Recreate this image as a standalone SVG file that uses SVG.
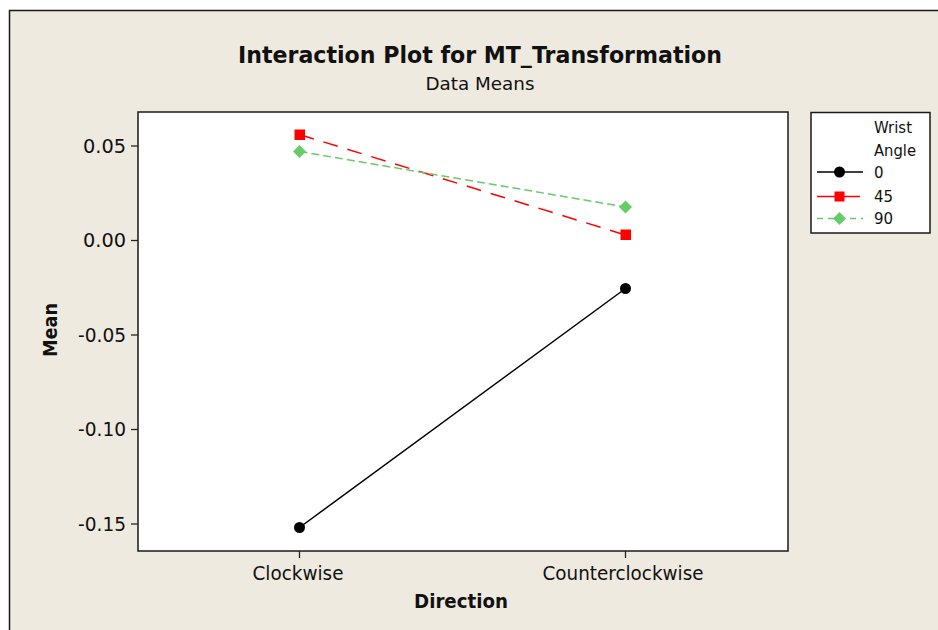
<svg xmlns="http://www.w3.org/2000/svg" width="938" height="630" viewBox="0 0 938 630">
<style>
text{font-family:"DejaVu Sans","Liberation Sans",sans-serif;fill:#111}
.tick{stroke:#222;stroke-width:1.3}
.ylab{font-size:19px;text-anchor:end}
.xlab{font-size:19px;text-anchor:middle}
.leg{font-size:15px}
</style>
<rect width="938" height="630" fill="#ffffff"/>
<rect x="9.5" y="10.5" width="940" height="630" fill="#EEEAE0" stroke="#1a1a1a" stroke-width="1.5"/>
<g id="title">
<text x="480" y="63" font-size="23" font-weight="bold" text-anchor="middle" textLength="484" lengthAdjust="spacingAndGlyphs">Interaction Plot for MT_Transformation</text>
<text x="480" y="90" font-size="18" text-anchor="middle" textLength="109" lengthAdjust="spacingAndGlyphs">Data Means</text>
</g>
<g id="plot-area">
<rect x="138" y="112" width="650" height="439" fill="#ffffff" stroke="#1a1a1a" stroke-width="1.5"/>
</g>
<g id="y-axis">
<line class="tick" x1="131" y1="146" x2="138" y2="146"/>
<line class="tick" x1="131" y1="240.5" x2="138" y2="240.5"/>
<line class="tick" x1="131" y1="335" x2="138" y2="335"/>
<line class="tick" x1="131" y1="429.5" x2="138" y2="429.5"/>
<line class="tick" x1="131" y1="524" x2="138" y2="524"/>
<text class="ylab" x="126" y="152.5" textLength="43" lengthAdjust="spacingAndGlyphs">0.05</text>
<text class="ylab" x="126" y="247" textLength="43" lengthAdjust="spacingAndGlyphs">0.00</text>
<text class="ylab" x="126" y="341.5" textLength="48" lengthAdjust="spacingAndGlyphs">-0.05</text>
<text class="ylab" x="126" y="436" textLength="48" lengthAdjust="spacingAndGlyphs">-0.10</text>
<text class="ylab" x="126" y="530.5" textLength="48" lengthAdjust="spacingAndGlyphs">-0.15</text>
<text x="57" y="330" font-size="19" font-weight="bold" text-anchor="middle" transform="rotate(-90 57 330)" textLength="54" lengthAdjust="spacingAndGlyphs">Mean</text>
</g>
<g id="x-axis">
<line class="tick" x1="299.5" y1="551" x2="299.5" y2="558"/>
<line class="tick" x1="625.5" y1="551" x2="625.5" y2="558"/>
<text class="xlab" x="298" y="580" textLength="91" lengthAdjust="spacingAndGlyphs">Clockwise</text>
<text class="xlab" x="623" y="580" textLength="161" lengthAdjust="spacingAndGlyphs">Counterclockwise</text>
<text x="461" y="608" font-size="19" font-weight="bold" text-anchor="middle" textLength="94" lengthAdjust="spacingAndGlyphs">Direction</text>
</g>
<g id="connectors">
<line x1="299.5" y1="527.5" x2="625.5" y2="288.5" stroke="#000" stroke-width="1.5"/>
<line x1="299.5" y1="134.5" x2="625.5" y2="235" stroke="#ff0000" stroke-width="1.5" stroke-dasharray="15,10"/>
<line x1="299.5" y1="151.5" x2="625.5" y2="207" stroke="#66cc66" stroke-width="1.5" stroke-dasharray="8,4"/>
</g>
<g id="series-0">
<circle cx="299.5" cy="527.5" r="5.5" fill="#000"/>
<circle cx="625.5" cy="288.5" r="5.5" fill="#000"/>
</g>
<g id="series-45">
<rect x="294.5" y="129.5" width="10.5" height="10.5" fill="#ff0000"/>
<rect x="620.5" y="229.5" width="10.5" height="10.5" fill="#ff0000"/>
</g>
<g id="series-90">
<polygon points="299.5,145 306,151.5 299.5,158 293,151.5" fill="#66cc66"/>
<polygon points="625.5,200.5 632,207 625.5,213.5 619,207" fill="#66cc66"/>
</g>
<g id="legend">
<rect x="811" y="112.5" width="119" height="120.5" fill="#ffffff" stroke="#1a1a1a" stroke-width="1.5"/>
<text class="leg" x="874" y="133" textLength="38" lengthAdjust="spacingAndGlyphs">Wrist</text>
<text class="leg" x="874" y="156" textLength="42" lengthAdjust="spacingAndGlyphs">Angle</text>
<line x1="817" y1="172" x2="863" y2="172" stroke="#000" stroke-width="1.5"/>
<circle cx="839.5" cy="172" r="5.5" fill="#000"/>
<text class="leg" x="874" y="177.5">0</text>
<line x1="817" y1="196.5" x2="860" y2="196.5" stroke="#ff0000" stroke-width="1.5"/>
<rect x="834.5" y="191.5" width="10" height="10" fill="#ff0000"/>
<text class="leg" x="874" y="202">45</text>
<line x1="817" y1="218.5" x2="863" y2="218.5" stroke="#66cc66" stroke-width="1.5" stroke-dasharray="6,5"/>
<polygon points="839.5,212 846,218.5 839.5,225 833,218.5" fill="#66cc66"/>
<text class="leg" x="874" y="224">90</text>
</g>
</svg>
